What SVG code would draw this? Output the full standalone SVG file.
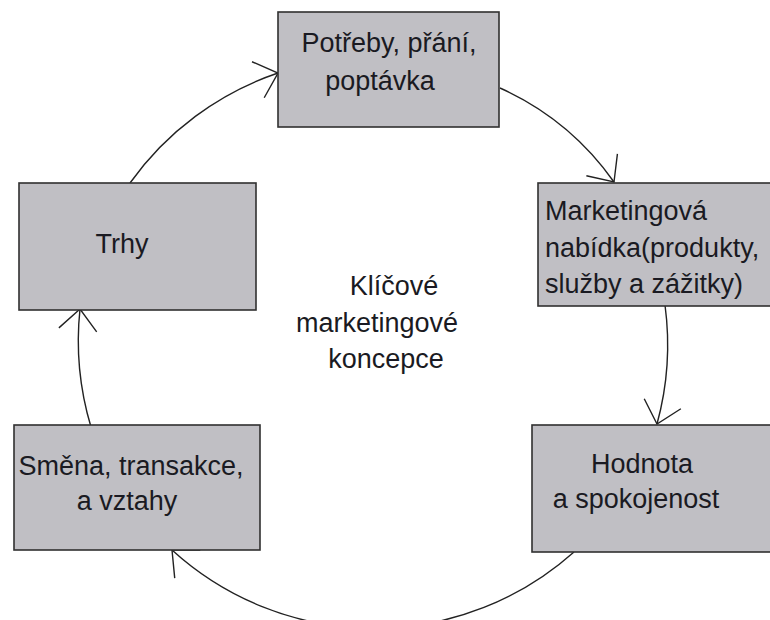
<svg xmlns="http://www.w3.org/2000/svg" width="770" height="620" viewBox="0 0 770 620">
<style>
.box{fill:#c0bfc4;stroke:#303030;stroke-width:1.6}
.t{font-family:"Liberation Sans",Arial,sans-serif;font-size:27px;fill:#1a1a22}
.m{text-anchor:middle}
.c{fill:none;stroke:#222;stroke-width:1.4;marker-end:url(#arr)}
</style>
<defs>
<marker id="arr" markerUnits="userSpaceOnUse" markerWidth="1" markerHeight="1" refX="0" refY="0" orient="auto" overflow="visible">
<path d="M-21,-19 L0,0 L-21,19" fill="none" stroke="#222" stroke-width="1.4"/>
</marker>
</defs>
<rect width="770" height="620" fill="#fff"/>
<g id="connectors">
<path class="c" d="M130,183 A300,300 0 0 1 278,73"/>
<path class="c" d="M500,88 A280,280 0 0 1 614,182"/>
<path class="c" d="M665,305 A300,300 0 0 1 657,424"/>
<path class="c" d="M574,552 A300,300 0 0 1 172,550"/>
<path class="c" d="M91,427 A300,300 0 0 1 80,309"/>
</g>
<g id="potreby">
<rect class="box" x="278" y="12" width="221" height="115"/>
<text class="t m" x="389" y="52">Potřeby, přání,</text>
<text class="t m" x="380" y="90">poptávka</text>
</g>
<g id="nabidka">
<rect class="box" x="538" y="183" width="240" height="123"/>
<text class="t" x="545" y="220">Marketingová</text>
<text class="t" x="545" y="257">nabídka(produkty,</text>
<text class="t" x="545" y="293">služby a zážitky)</text>
</g>
<g id="hodnota">
<rect class="box" x="532" y="425" width="246" height="127"/>
<text class="t m" x="642" y="473">Hodnota</text>
<text class="t m" x="636" y="508">a spokojenost</text>
</g>
<g id="smena">
<rect class="box" x="14" y="425" width="246" height="125"/>
<text class="t m" x="131" y="475">Směna, transakce,</text>
<text class="t m" x="127" y="510">a vztahy</text>
</g>
<g id="trhy">
<rect class="box" x="19" y="183" width="237" height="127"/>
<text class="t m" x="122" y="253">Trhy</text>
</g>
<g id="center">
<text class="t m" x="394" y="295">Klíčové</text>
<text class="t m" x="377" y="332">marketingové</text>
<text class="t m" x="386" y="368">koncepce</text>
</g>
</svg>
